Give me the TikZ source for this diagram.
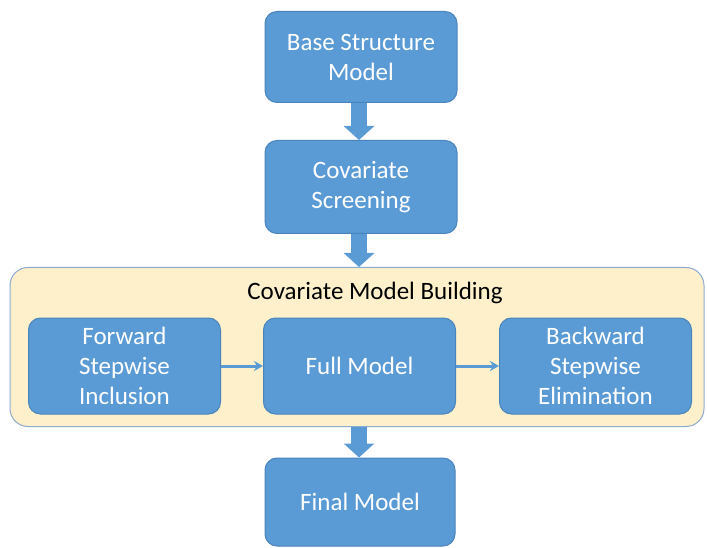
\documentclass[tikz,border=0pt]{standalone}
\usepackage{fontspec}
\setmainfont{Carlito}
\usetikzlibrary{arrows.meta}

\definecolor{boxblue}{HTML}{5B9BD5}
\definecolor{boxedge}{HTML}{4A84BC}
\definecolor{panelfill}{HTML}{FDF0CB}
\definecolor{paneledge}{HTML}{8EAAD0}

\begin{document}
\begin{tikzpicture}[x=1pt, y=-1pt,
    >=stealth,
    % Define a style for the blue process boxes
    stepbox/.style={
        draw=boxedge,
        line width=1pt,
        fill=boxblue,
        rounded corners=12pt,
        text=white,
        align=center,
        minimum width=192pt,
        minimum height=93pt,
        font=\fontsize{25}{30}\selectfont
    },
    % Fat arrows between the main stages
    blockarrow/.style={
        draw=boxblue,
        line width=16pt,
        -{Triangle[width=30pt, length=14pt]}
    },
    % Thin arrows inside the panel
    thinarrow/.style={
        draw=boxblue,
        line width=3pt,
        -{Stealth[width=10pt, length=9pt]}
    }
]
\useasboundingbox (0,0) rectangle (707,548);

% 1. Panel holding the model building steps
\node[draw=paneledge, line width=1pt, fill=panelfill, rounded corners=18pt,
      minimum width=694pt, minimum height=159pt] (panel) at (357,347) {};
\node[font=\fontsize{25}{30}\selectfont] (title) at (375,293) {Covariate Model Building};

% 2. The main stages
\node[stepbox, minimum height=91pt] (base) at (361,57) {Base Structure\\Model};
\node[stepbox] (screen) at (361,187) {Covariate\\Screening};
\node[stepbox, minimum width=190pt, minimum height=88pt] (final) at (360,502) {Final Model};

% 3. Steps inside the panel
\node[stepbox, minimum height=96pt] (fwd)  at (124.5,366) {Forward\\Stepwise\\Inclusion};
\node[stepbox, minimum height=96pt] (full) at (359.5,366) {Full Model};
\node[stepbox, minimum height=96pt] (bwd)  at (595.5,366) {Backward\\Stepwise\\Elimination};

% 4. Arrows
\draw[blockarrow] (base.south -| 359,0) -- (screen.north -| 359,0);
\draw[blockarrow] (screen.south -| 359,0) -- (panel.north -| 359,0);
\draw[blockarrow] (panel.south -| 359,0) -- (final.north -| 359,0);
\draw[thinarrow] (fwd) -- (full);
\draw[thinarrow] (full) -- (bwd);

\end{tikzpicture}
\end{document}
